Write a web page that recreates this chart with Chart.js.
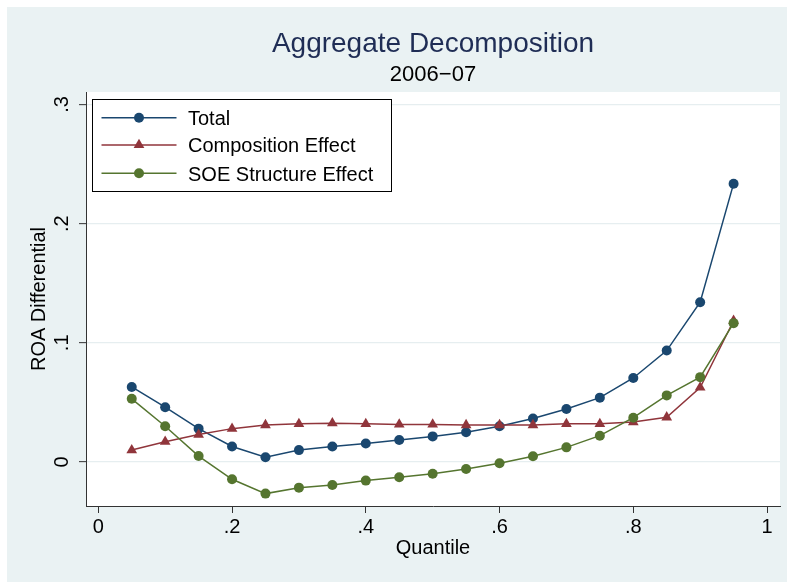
<!DOCTYPE html>
<html>
<head>
<meta charset="utf-8">
<script src="https://cdn.jsdelivr.net/npm/chart.js@4"></script>
<style>
  html, body { margin: 0; padding: 0; background: #fff; }
  canvas { display: block; }
</style>
</head>
<body>
<canvas id="decompChart" width="787" height="582"></canvas>
<script>
const TITLE = 'Aggregate Decomposition';
const SUBTITLE = '2006\u221207';

const quantiles = [0.05, 0.10, 0.15, 0.20, 0.25, 0.30, 0.35, 0.40, 0.45, 0.50,
                   0.55, 0.60, 0.65, 0.70, 0.75, 0.80, 0.85, 0.90, 0.95];
const total = [0.063, 0.046, 0.028, 0.013, 0.004, 0.010, 0.013, 0.0155, 0.0185, 0.0215,
               0.025, 0.030, 0.0365, 0.0445, 0.054, 0.0705, 0.0935, 0.134, 0.2335];
const composition = [0.010, 0.017, 0.023, 0.028, 0.031, 0.032, 0.0325, 0.032, 0.0315, 0.0315,
                     0.031, 0.031, 0.031, 0.032, 0.032, 0.0335, 0.0375, 0.0625, 0.1185];
const soeStructure = [0.053, 0.030, 0.005, -0.0145, -0.0265, -0.0215, -0.0193, -0.0156, -0.0128, -0.0098,
                      -0.0059, -0.0011, 0.0048, 0.0123, 0.0221, 0.0372, 0.0559, 0.0712, 0.1165];

const xTicks = [0, 0.2, 0.4, 0.6, 0.8, 1];
const xTickLabels = ['0', '.2', '.4', '.6', '.8', '1'];
const yTicks = [0, 0.1, 0.2, 0.3];
const yTickLabels = ['0', '.1', '.2', '.3'];

const FONT = '"Liberation Sans", Arial, Helvetica, sans-serif';
const BG = '#eaf2f3';

const pts = ys => quantiles.map((q, i) => ({ x: q, y: ys[i] }));

function series(label, data, color, pointStyle, radius, order) {
  return {
    label, data: pts(data), order,
    borderColor: color, backgroundColor: color,
    borderWidth: 1.5, tension: 0,
    pointStyle, pointRadius: radius, pointHoverRadius: radius,
    pointBorderWidth: 0, pointBackgroundColor: color,
  };
}

// graph region + white plot region
const backdrop = {
  id: 'backdrop',
  beforeDraw(chart) {
    const { ctx, width, height, chartArea: a } = chart;
    ctx.save();
    ctx.fillStyle = '#fff';
    ctx.fillRect(0, 0, width, height);
    ctx.fillStyle = BG;
    ctx.fillRect(7, 7, width - 7, height - 7);
    ctx.fillStyle = '#fff';
    ctx.fillRect(a.left, a.top, a.right - a.left, a.bottom - a.top);
    ctx.restore();
  },
};

const titles = {
  id: 'titles',
  afterDraw(chart) {
    const { ctx, chartArea: a } = chart;
    const cx = (a.left + a.right) / 2;
    ctx.save();
    ctx.textAlign = 'center';
    ctx.textBaseline = 'alphabetic';
    ctx.fillStyle = '#1f2d55';
    ctx.font = '28px ' + FONT;
    ctx.fillText(TITLE, cx, 52);
    ctx.fillStyle = '#000';
    ctx.font = '22px ' + FONT;
    ctx.fillText(SUBTITLE, cx, 81);
    ctx.restore();
  },
};

function marker(ctx, style, x, y, r) {
  ctx.beginPath();
  if (style === 'triangle') {
    for (let k = 0; k < 3; k++) {
      const t = k * 2 * Math.PI / 3;
      const px = x + Math.sin(t) * r, py = y - Math.cos(t) * r;
      k ? ctx.lineTo(px, py) : ctx.moveTo(px, py);
    }
    ctx.closePath();
  } else {
    ctx.arc(x, y, r, 0, Math.PI * 2);
  }
  ctx.fill();
}

// boxed legend in the upper-left corner of the plot
const boxLegend = {
  id: 'boxLegend',
  afterDraw(chart) {
    const { ctx } = chart;
    const rows = [117.7, 145, 173.3];
    ctx.save();
    ctx.fillStyle = '#fff';
    ctx.fillRect(93, 99.5, 298.5, 92);
    ctx.strokeStyle = '#000';
    ctx.lineWidth = 1;
    ctx.strokeRect(92.5, 99.5, 299, 92);
    chart.data.datasets.forEach((ds, i) => {
      const y = rows[i];
      ctx.strokeStyle = ds.borderColor;
      ctx.lineWidth = ds.borderWidth;
      ctx.beginPath();
      ctx.moveTo(101.5, y);
      ctx.lineTo(176.5, y);
      ctx.stroke();
      ctx.fillStyle = ds.borderColor;
      marker(ctx, ds.pointStyle, 139, y, ds.pointRadius);
      ctx.fillStyle = '#000';
      ctx.font = '20px ' + FONT;
      ctx.textAlign = 'left';
      ctx.textBaseline = 'alphabetic';
      ctx.fillText(ds.label, 188, y + 7.3);
    });
    ctx.restore();
  },
};

new Chart(document.getElementById('decompChart'), {
  type: 'line',
  data: {
    datasets: [
      series('Total', total, '#1a476f', 'circle', 5, 3),
      series('Composition Effect', composition, '#90353b', 'triangle', 6.2, 2),
      series('SOE Structure Effect', soeStructure, '#55752f', 'circle', 5, 1),
    ],
  },
  options: {
    responsive: false,
    animation: false,
    events: [],
    layout: { padding: { top: 92, right: 7, bottom: 0, left: 0 } },
    plugins: { legend: { display: false }, title: { display: false }, tooltip: { enabled: false } },
    scales: {
      x: {
        type: 'linear',
        min: -0.0184, max: 1.0194,
        afterBuildTicks: s => { s.ticks = xTicks.map(v => ({ value: v })); },
        afterFit: s => { s.height = 76; },
        ticks: {
          autoSkip: false, maxRotation: 0, padding: 2, color: '#000',
          font: { family: FONT, size: 20 },
          callback: (v, i) => xTickLabels[i],
        },
        grid: { drawOnChartArea: false, tickLength: 7, tickColor: '#333', tickWidth: 1 },
        border: { color: '#333', width: 1 },
        title: {
          display: true, text: 'Quantile', color: '#000',
          font: { family: FONT, size: 20 }, padding: { top: 0, bottom: 22 },
        },
      },
      y: {
        type: 'linear',
        min: -0.0369, max: 0.3104,
        afterBuildTicks: s => { s.ticks = yTicks.map(v => ({ value: v })); },
        afterFit: s => { s.width = 86; },
        ticks: {
          minRotation: 90, maxRotation: 90, crossAlign: 'center', padding: 8.6, color: '#000',
          font: { family: FONT, size: 20 },
          callback: (v, i) => yTickLabels[i],
        },
        grid: { color: '#e6eef0', lineWidth: 1.3, tickLength: 7, tickColor: '#333', tickWidth: 1 },
        border: { color: '#333', width: 1 },
        title: {
          display: true, text: 'ROA Differential', color: '#000',
          font: { family: FONT, size: 20 }, padding: { top: 27.5, bottom: 0 },
        },
      },
    },
  },
  plugins: [backdrop, titles, boxLegend],
});
</script>
</body>
</html>
